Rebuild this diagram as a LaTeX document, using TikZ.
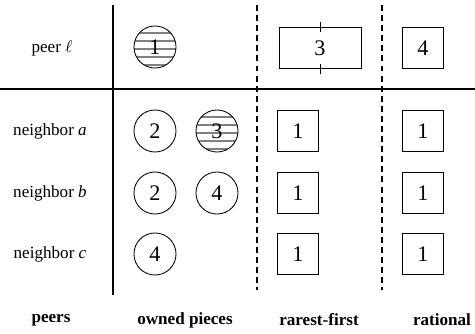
\documentclass[tikz,border=0pt]{standalone}
\usepackage{fontspec}
\setmainfont{Liberation Serif}
\usetikzlibrary{positioning}
\tikzset{
  rule/.style={draw=black, line width=0.8pt},
  split/.style={draw=black, line width=0.6pt, dash pattern=on 3.5pt off 2.4pt},
  rowlabel/.style={font=\fontsize{10}{12}\selectfont},
  colhead/.style={font=\fontsize{10}{12}\selectfont\bfseries},
  piece/.style={
    circle,
    draw,
    line width=0.5pt,
    minimum size=24.6pt,
    inner sep=0pt,
    font=\fontsize{13}{15}\selectfont
  },
  hatched/.style={
    piece,
    path picture={
      \foreach \dy in {-18,-10,-2,6,14}
        \draw[gray, line width=0.6pt]
          ([yshift=\dy*0.585pt]path picture bounding box.west) --
          ([yshift=\dy*0.585pt]path picture bounding box.east);
    }
  },
  request/.style={
    rectangle,
    draw,
    line width=0.5pt,
    minimum width=23.6pt,
    minimum height=24.4pt,
    inner sep=0pt,
    font=\fontsize{13}{15}\selectfont
  },
  widerequest/.style={request, minimum width=48pt}
}

\begin{document}
\begin{tikzpicture}[x=0.585pt, y=-0.585pt]
  \useasboundingbox (0,0) rectangle (475,334);

  % table rules
  \draw[rule] (113,5) -- (113,295);
  \draw[rule] (0,89) -- (475,89);
  \draw[split] (257,5) -- (257,290);
  \draw[split] (382,5) -- (382,290);

  % local peer
  \node[rowlabel] (peer) at (52,48) {peer $\ell$};
  \node[hatched] (own1) at (155,47) {1};
  \node[widerequest] (rare3) at (320,48) {3};
  \draw[line width=0.5pt] ([yshift=3pt]rare3.north) -- ([yshift=-3pt]rare3.north);
  \draw[line width=0.5pt] ([yshift=3pt]rare3.south) -- ([yshift=-3pt]rare3.south);
  \node[request] (rat4) at (423,48) {4};

  % neighbors
  \node[rowlabel] (nba) at (50,131) {neighbor \textit{a}};
  \node[rowlabel] (nbb) at (50,193) {neighbor \textit{b}};
  \node[rowlabel] (nbc) at (50,254) {neighbor \textit{c}};

  \node[piece] (a2) at (155,131) {2};
  \node[hatched] (a3) at (217,131) {3};
  \node[piece] (b2) at (155,193) {2};
  \node[piece] (b4) at (217,193) {4};
  \node[piece] (c4) at (155,254) {4};

  \foreach \nb/\y in {a/131, b/193, c/254} {
    \node[request] (rare\nb) at (298,\y) {1};
    \node[request] (rat\nb) at (423,\y) {1};
  }

  % column headings
  \node[colhead] (hpeers) at (51,320) {peers};
  \node[colhead] (howned) at (185,320) {owned pieces};
  \node[colhead] (hrare) at (319,320) {rarest-first};
  \node[colhead] (hrat) at (442,320) {rational};
\end{tikzpicture}
\end{document}
